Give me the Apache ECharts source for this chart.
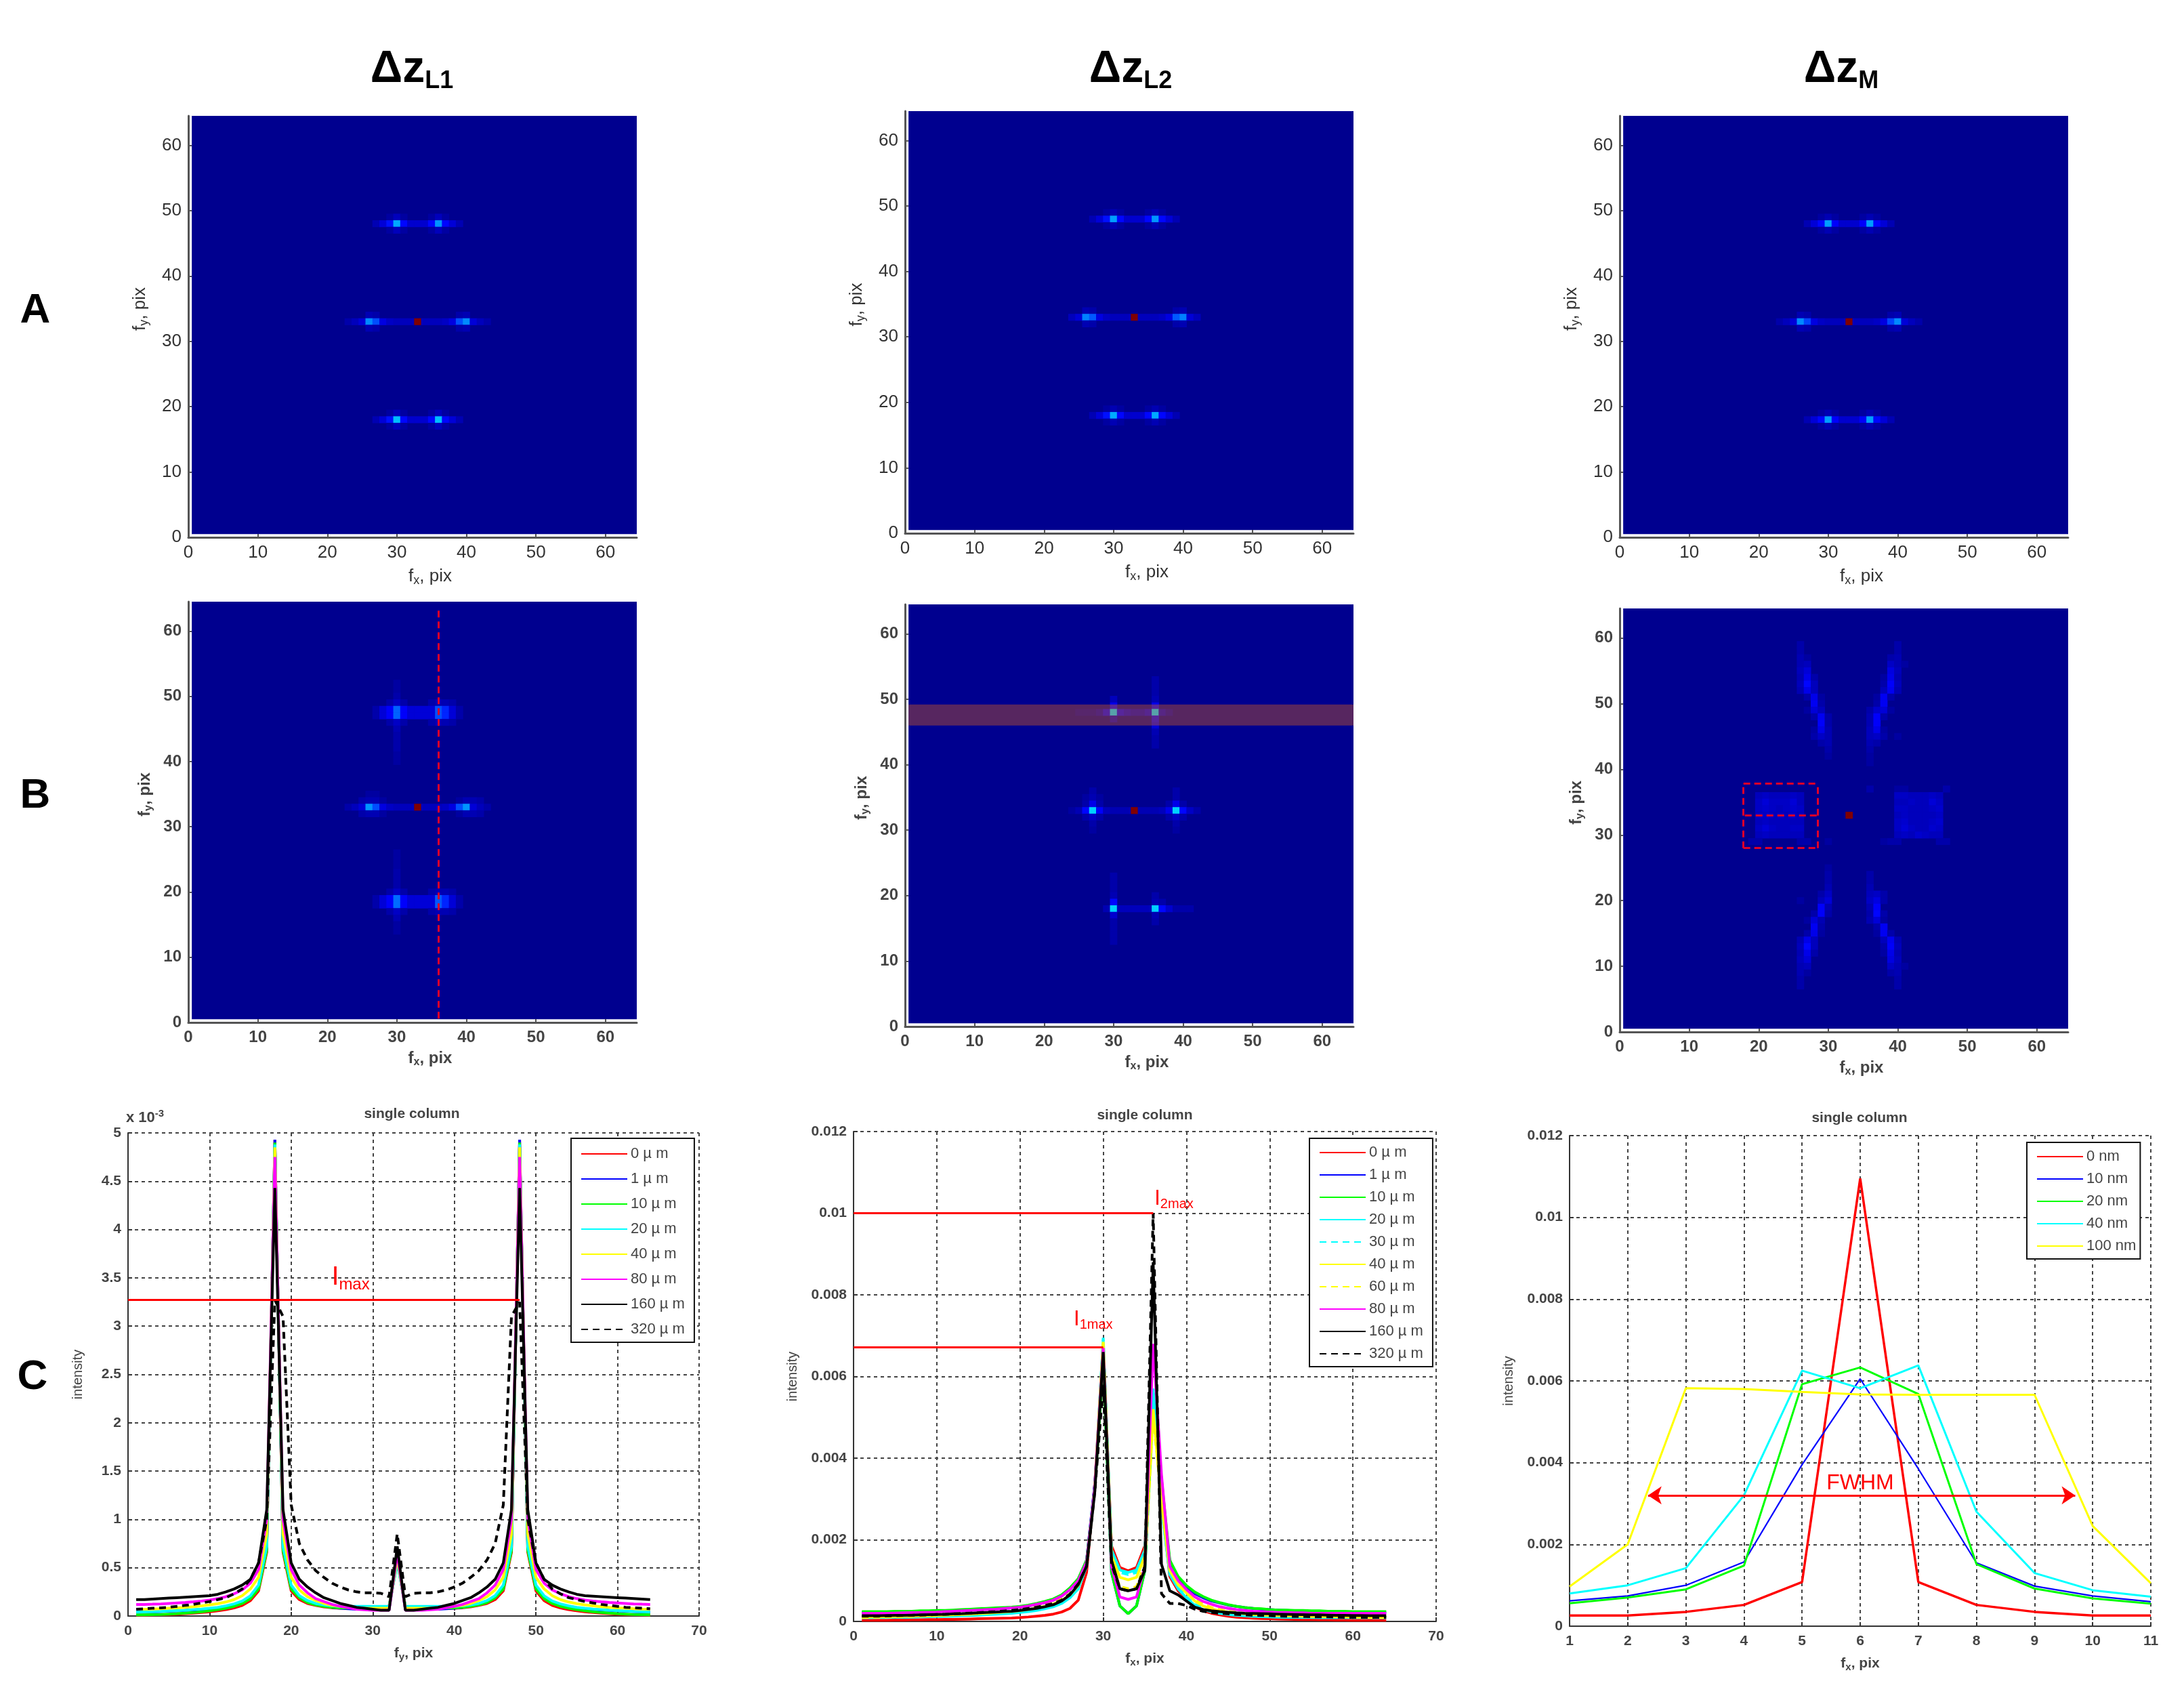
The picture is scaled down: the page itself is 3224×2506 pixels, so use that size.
<!DOCTYPE html>
<html>
<head>
<meta charset="utf-8">
<title>single column</title>
<script src="https://cdn.jsdelivr.net/npm/echarts@6/dist/echarts.min.js"></script>
<style>
html,body{margin:0;padding:0;background:#fff;}
#main{width:3224px;height:2506px;}
</style>
</head>
<body>
<div id="main"></div>
<script>
// ---- line profiles, row C ----
var xPix = [];
for (var n = 1; n <= 64; n++) xPix.push(n);
var xFwhm = [1,2,3,4,5,6,7,8,9,10,11];

var namesL1 = ['0 µ m','1 µ m','10 µ m','20 µ m','40 µ m','80 µ m','160 µ m','320 µ m'];
var colorsL1 = ['#ff0000','#0000ff','#00ff00','#00ffff','#ffff00','#ff00ff','#000000','#000000'];
// intensity x 10^-3
var l1_0 = [.01,.01,.012,.014,.016,.02,.024,.03,.036,.044,.054,.066,.084,.11,.16,.26,.66,4.93,.66,.26,.17,.13,.11,.095,.085,.08,.08,.08,.085,.09,.095,.1,.58,.1,.095,.09,.085,.08,.08,.08,.085,.095,.11,.13,.17,.26,.66,4.93,.66,.26,.16,.11,.084,.066,.054,.044,.036,.03,.024,.02,.016,.014,.012,.01];
var l1_1 = [.04,.04,.042,.045,.05,.052,.058,.062,.068,.076,.086,.1,.12,.15,.2,.3,.7,4.93,.7,.3,.2,.15,.12,.105,.09,.08,.075,.07,.07,.07,.07,.07,.6,.07,.07,.07,.07,.07,.075,.08,.09,.105,.12,.15,.2,.3,.7,4.93,.7,.3,.2,.15,.12,.1,.086,.076,.068,.062,.058,.052,.05,.045,.042,.04];
var l1_2 = [.012,.012,.014,.016,.02,.024,.03,.036,.044,.054,.066,.08,.1,.13,.18,.28,.68,4.9,.68,.28,.19,.14,.115,.1,.09,.085,.085,.085,.09,.09,.095,.1,.56,.1,.095,.09,.09,.085,.085,.085,.09,.1,.115,.14,.19,.28,.68,4.9,.68,.28,.18,.13,.1,.08,.066,.054,.044,.036,.03,.024,.02,.016,.014,.012];
var l1_3 = [.04,.042,.044,.048,.052,.056,.06,.066,.072,.08,.09,.105,.125,.155,.21,.32,.72,4.88,.72,.32,.21,.16,.13,.115,.105,.1,.1,.1,.1,.1,.1,.1,.55,.1,.1,.1,.1,.1,.1,.1,.105,.115,.13,.16,.21,.32,.72,4.88,.72,.32,.21,.155,.125,.105,.09,.08,.072,.066,.06,.056,.052,.048,.044,.042];
var l1_4 = [.07,.07,.072,.075,.08,.085,.09,.097,.105,.115,.128,.145,.17,.21,.28,.4,.85,4.85,.85,.4,.27,.2,.16,.13,.11,.1,.09,.085,.08,.08,.08,.08,.6,.08,.08,.08,.08,.085,.09,.1,.11,.13,.16,.2,.27,.4,.85,4.85,.85,.4,.28,.21,.17,.145,.128,.115,.105,.097,.09,.085,.08,.075,.072,.07];
var l1_5 = [.12,.12,.122,.125,.13,.135,.14,.147,.155,.165,.18,.2,.23,.27,.34,.48,1,4.75,1,.48,.32,.24,.18,.15,.12,.1,.085,.07,.065,.06,.06,.06,.65,.06,.06,.06,.065,.07,.085,.1,.12,.15,.18,.24,.32,.48,1,4.75,1,.48,.34,.27,.23,.2,.18,.165,.155,.147,.14,.135,.13,.125,.122,.12];
var l1_6 = [.17,.17,.175,.18,.185,.19,.195,.2,.205,.21,.225,.25,.28,.32,.38,.55,1.1,4.43,1.1,.55,.38,.3,.24,.19,.16,.13,.11,.09,.08,.07,.06,.06,.72,.06,.06,.07,.08,.09,.11,.13,.16,.19,.24,.3,.38,.55,1.1,4.43,1.1,.55,.38,.32,.28,.25,.225,.21,.205,.2,.195,.19,.185,.18,.175,.17];
var l1_7 = [.07,.075,.08,.085,.09,.1,.11,.12,.135,.15,.17,.19,.23,.28,.38,.55,1,3.27,3.1,1.15,.75,.58,.47,.4,.34,.3,.27,.25,.24,.24,.235,.2,.85,.2,.235,.24,.24,.25,.27,.3,.34,.4,.47,.58,.75,1.15,3.1,3.25,1,.55,.38,.28,.23,.19,.17,.15,.135,.12,.11,.1,.09,.085,.08,.075];

var namesL2 = ['0 µ m','1 µ m','10 µ m','20 µ m','30 µ m','40 µ m','60 µ m','80 µ m','160 µ m','320 µ m'];
var colorsL2 = ['#ff0000','#0000ff','#00ff00','#00ffff','#00ffff','#ffff00','#ffff00','#ff00ff','#000000','#000000'];
var dashedL2 = [false,false,false,false,true,false,true,false,false,true];
// intensity x 10^-4
var l2_0 = [.3,.3,.3,.3,.35,.35,.4,.4,.45,.45,.5,.5,.55,.6,.65,.7,.75,.8,.85,.95,1.1,1.3,1.5,1.8,2.3,3.2,5.2,12,34,68,18.5,13.2,12.4,13.2,18.5,56,30,11,7.5,5.6,3.6,2.6,2,1.6,1.3,1.05,.9,.8,.7,.65,.6,.55,.5,.45,.45,.4,.4,.35,.35,.3,.3,.3,.3,.3];
var l2_1 = [2.2,2.2,2.2,2.2,2.3,2.3,2.3,2.4,2.4,2.5,2.5,2.6,2.7,2.8,2.9,3,3.1,3.2,3.3,3.5,3.8,4.2,4.6,5.2,6.2,7.8,10,15,34,65,12,3.8,1.9,3.8,12.5,56,33,14.5,10.5,8.3,6.8,5.8,5,4.5,4,3.7,3.4,3.2,3,2.9,2.8,2.7,2.6,2.5,2.5,2.4,2.4,2.3,2.3,2.3,2.2,2.2,2.2,2.2];
var l2_2 = [2.4,2.4,2.4,2.4,2.5,2.5,2.5,2.6,2.6,2.7,2.7,2.8,2.9,3,3.1,3.2,3.3,3.4,3.5,3.7,4,4.4,4.9,5.5,6.5,8.2,10.5,15,33,63,12,3.8,1.9,3.8,12.5,53,35,15,11,8.8,7.2,6.1,5.2,4.6,4.1,3.7,3.4,3.2,3.1,2.9,2.8,2.8,2.7,2.7,2.6,2.6,2.5,2.5,2.5,2.4,2.4,2.4,2.4,2.4];
var l2_3 = [.9,.9,.95,.95,1,1,1.05,1.1,1.15,1.2,1.25,1.3,1.4,1.45,1.55,1.65,1.75,1.85,2,2.2,2.4,2.7,3.1,3.6,4.4,5.8,8,13.5,33,69,17.5,12.6,12,12.6,17.5,57,28,11.5,8,5.8,3.9,2.9,2.4,2,1.7,1.5,1.35,1.25,1.15,1.1,1.05,1,1,.95,.95,.9,.9,.9,.9,.9,.9,.9,.9,.9];
var l2_4 = [1.1,1.1,1.1,1.15,1.15,1.2,1.2,1.25,1.3,1.35,1.4,1.5,1.55,1.65,1.75,1.85,1.95,2.1,2.2,2.4,2.7,3,3.4,3.9,4.7,6,8.2,13.5,33,69.5,17,12,11.5,12,17,57,28,12,8.3,6,4.2,3.2,2.6,2.2,1.9,1.7,1.55,1.45,1.35,1.3,1.25,1.2,1.2,1.15,1.15,1.1,1.1,1.1,1.1,1.1,1.1,1.1,1.1,1.1];
var l2_5 = [1.1,1.1,1.15,1.15,1.2,1.25,1.3,1.35,1.4,1.45,1.55,1.6,1.7,1.8,1.9,2,2.15,2.3,2.45,2.65,2.95,3.3,3.7,4.3,5.1,6.5,8.8,13.8,33,68.5,16,10.8,10.2,10.8,16,52,29,12.5,9,7,5,3.8,3.1,2.6,2.3,2.05,1.85,1.7,1.6,1.5,1.45,1.4,1.35,1.3,1.25,1.2,1.2,1.15,1.15,1.1,1.1,1.1,1.1,1.1];
var l2_6 = [1,1,1.05,1.1,1.15,1.2,1.25,1.3,1.4,1.5,1.6,1.7,1.8,1.9,2.05,2.2,2.35,2.5,2.7,2.9,3.2,3.6,4,4.6,5.4,6.8,9,14,33,68,14,8.5,8,8.5,14,50,30,13,9.3,7.2,5.4,4.2,3.4,2.9,2.5,2.25,2,1.85,1.7,1.6,1.5,1.45,1.4,1.3,1.25,1.2,1.2,1.15,1.1,1.1,1.05,1,1,1];
var l2_7 = [2,2,2,2,2.05,2.1,2.15,2.2,2.25,2.3,2.4,2.5,2.6,2.7,2.8,2.9,3,3.15,3.3,3.5,3.8,4.2,4.6,5.2,6.2,7.8,10,14.5,33,67,13.5,6,5.4,6,13.5,68,36,13.5,10,7.8,6,4.9,4.2,3.6,3.2,2.9,2.7,2.5,2.4,2.3,2.2,2.2,2.1,2.1,2,2,2,2,2,2,2,2,2,2];
var l2_8 = [1.4,1.4,1.4,1.45,1.5,1.5,1.55,1.6,1.65,1.7,1.75,1.85,1.9,2,2.1,2.2,2.3,2.4,2.5,2.7,2.95,3.2,3.6,4.1,5,6.5,9,13.5,32,66,15,8,7.5,8,12.5,88,14,7.5,6.5,5,3.5,2.9,2.6,2.4,2.25,2.1,2,1.95,1.9,1.85,1.8,1.75,1.7,1.65,1.6,1.6,1.55,1.5,1.5,1.45,1.45,1.4,1.4,1.4];
var l2_9 = [1.3,1.3,1.3,1.35,1.4,1.45,1.5,1.55,1.6,1.7,1.75,1.85,1.95,2.05,2.15,2.3,2.4,2.55,2.7,2.9,3.2,3.5,3.9,4.4,5.2,6.7,9.2,13.5,32,58,14,8,7.5,8,13.5,100,6.8,4.4,4.4,3.9,3,2.5,2.2,2,1.85,1.7,1.6,1.5,1.45,1.4,1.3,1.25,1.2,1.2,1.15,1.1,1.1,1.05,1,1,1,1,1,1];

var namesM = ['0 nm','10 nm','20 nm','40 nm','100 nm'];
var colorsM = ['#ff0000','#0000ff','#00ff00','#00ffff','#ffff00'];
var m_0 = [.00026,.00026,.00035,.00052,.00108,.01095,.00108,.00052,.00035,.00026,.00026];
var m_1 = [.00062,.00074,.001,.00157,.00395,.00605,.00385,.00155,.00098,.00074,.0006];
var m_2 = [.00056,.0007,.0009,.00148,.00592,.00633,.00568,.00152,.00092,.00068,.00055];
var m_3 = [.0008,.001,.00142,.0032,.00625,.00582,.00638,.0028,.0013,.00088,.00072];
var m_4 = [.00097,.002,.00582,.0058,.00573,.00567,.00566,.00566,.00566,.00245,.00105];

// ---- spectra, rows A and B: [fy, first fx, [intensity %]], everything else is background ----
var heatA1 = [[49,29,[2,5,2]],[49,35,[2,5,2]],[48,27,[4,8,14,29,13,7,7,7,13,27,13,8,4]],[47,29,[2,5,2]],[47,35,[2,5,2]],
  [34,26,[4,3]],[34,39,[3,4]],[33,23,[3,5,8,26,20,9,6,5,5,5,100,5,5,5,6,9,20,26,8,5,3]],[32,26,[4,3]],[32,39,[3,4]],
  [19,29,[2,5,2]],[19,35,[2,5,2]],[18,27,[4,8,14,31,13,7,7,7,13,31,13,8,4]],[17,29,[2,5,2]],[17,35,[2,5,2]]];
var heatA2 = [[49,29,[2,4,2]],[49,35,[2,4,2]],[48,27,[4,8,14,28,13,7,7,7,13,27,13,8,4]],[47,29,[2,4,2]],[47,35,[2,4,2]],
  [34,26,[4,3]],[34,39,[3,4]],[33,24,[5,8,25,21,9,6,5,5,5,100,5,5,5,6,9,21,25,8,5]],[32,26,[4,3]],[32,39,[3,4]],
  [19,29,[2,4,2]],[19,35,[2,4,2]],[18,27,[4,8,14,29,13,7,7,7,13,29,13,8,4]],[17,29,[2,4,2]],[17,35,[2,4,2]]];
var heatA3 = [[49,29,[2,4,2]],[49,35,[2,4,2]],[48,27,[4,8,13,28,12,7,7,7,12,28,13,8,4]],[47,29,[2,4,2]],[47,35,[2,4,2]],
  [34,26,[4,3]],[34,39,[3,4]],[33,23,[3,5,8,26,19,9,6,5,5,5,100,5,5,5,6,9,19,26,8,5,3]],[32,26,[4,3]],[32,39,[3,4]],
  [19,29,[2,4,2]],[19,35,[2,4,2]],[18,27,[4,8,13,28,12,7,7,7,12,28,13,8,4]],[17,29,[2,4,2]],[17,35,[2,4,2]]];
var heatB1 = [[52,30,[2]],[51,30,[2]],[50,30,[3]],[49,29,[3,6,3]],[49,35,[3,4,4,3]],[48,27,[3,8,12,22,12,8,8,8,8,20,16,8,3]],[47,27,[3,8,12,22,12,8,8,8,8,20,16,8,3]],
  [46,29,[3,6,3]],[46,35,[3,4,4,3]],[45,30,[4]],[44,30,[3]],[43,30,[3]],[42,30,[3]],[41,30,[2]],[40,30,[2]],
  [35,26,[2,2]],[34,25,[3,4,4,2]],[34,39,[2,4,4,3]],[33,23,[3,5,8,27,20,9,6,5,5,5,100,5,5,5,6,9,20,27,8,5,3]],[32,25,[3,4,4,2]],[32,39,[2,4,4,3]],
  [26,30,[2]],[25,30,[2]],[24,30,[2]],[23,30,[3]],[22,30,[3]],[21,30,[3]],[20,29,[3,6,3]],[20,35,[3,4,4,3]],
  [19,27,[3,8,12,23,12,8,8,8,8,21,16,8,3]],[18,27,[3,8,12,23,12,8,8,8,8,21,16,8,3]],[17,29,[3,6,3]],[17,35,[3,4,4,3]],[16,30,[4]],[15,30,[2]],[14,30,[2]]];
var heatB2 = [[53,36,[3]],[52,36,[3]],[51,36,[3]],[50,30,[5]],[50,36,[4]],[49,30,[10]],[49,36,[10]],[48,25,[2,2,2,4,10,31,10,7,5,5,8,31,6,3]],[47,30,[5]],[47,36,[10]],[46,36,[8]],[45,36,[4]],[44,36,[3]],[43,36,[3]],
  [36,27,[3]],[36,39,[3]],[35,26,[2,4,2]],[35,39,[3]],[34,26,[3,10,3]],[34,38,[3,10,3]],[33,24,[2,4,13,33,12,5,4,4,4,100,4,4,4,5,10,33,13,6,3]],[32,26,[3,6,3]],[32,38,[3,6,3]],[31,27,[3]],[31,39,[3]],[30,27,[2]],[30,39,[2]],
  [23,30,[3]],[22,30,[3]],[21,30,[3]],[20,30,[4]],[20,36,[3]],[19,30,[13]],[19,36,[4,3]],[18,29,[4,33,5,5,5,5,5,33,13,7,3,3,3]],[17,30,[7]],[17,36,[4]],[16,30,[3]],[16,36,[3]],[15,30,[3]],[14,30,[3]],[13,30,[3]]];
var heatB3 = [[59,26,[3]],[59,40,[3]],[58,26,[3]],[58,40,[3]],[57,26,[4,2]],[57,39,[3,4]],[56,26,[4,5]],[56,39,[6,4,2]],[55,26,[5,8]],[55,39,[9,5]],[54,26,[4,10,3]],[54,38,[2,10,4]],[53,26,[5,13,5]],[53,38,[3,12,5]],[52,26,[4,10,5]],[52,38,[5,11,4]],
  [51,27,[3,10,2]],[51,37,[2,11,3]],[50,28,[11,3]],[50,37,[3,11]],[49,27,[2,8,5]],[49,36,[3,7,8,2]],[48,28,[3,11,3]],[48,36,[4,12,3]],[47,29,[12,3]],[47,36,[4,12]],[46,28,[2,10,4]],[46,36,[5,10,2]],[45,28,[3,6,4]],[45,36,[5,6,3]],[45,40,[2]],[44,29,[3,4]],[44,36,[4,3]],[43,30,[3]],[43,36,[3]],[42,30,[2]],[42,36,[2]],[41,36,[2]],
  [37,36,[3]],[37,40,[2,2]],[37,47,[3]],[36,20,[5,6,5,5,5,6,5]],[36,40,[6,6,5,5,5,6,5]],[35,20,[6,8,6,6,6,8,5]],[35,40,[5,5,6,5,5,8,6]],[34,20,[6,7,6,5,6,7,6]],[34,40,[6,6,5,5,5,6,7]],[33,20,[5,6,5,5,5,6,5]],[33,33,[100]],[33,40,[5,6,5,5,5,5,6]],
  [32,20,[5,6,5,5,5,5,5]],[32,40,[6,7,5,5,5,6,7]],[31,20,[6,8,6,5,5,6,6]],[31,40,[6,8,6,5,5,7,6]],[30,20,[5,6,5,5,5,5,5]],[30,40,[5,6,5,7,6,5,5]],[29,19,[3,3]],[29,26,[3,3]],[29,30,[2]],[29,38,[2,3,3]],[29,46,[3,3]],
  [25,30,[2]],[24,30,[3]],[24,36,[3]],[23,30,[3]],[23,36,[3]],[22,30,[4]],[22,36,[4]],[21,29,[3,6]],[21,36,[5,6,3]],[20,26,[2]],[20,29,[5,8]],[20,36,[6,9,3]],[19,29,[12,4]],[19,36,[4,12]],[18,28,[3,12,3]],[18,36,[3,13,3]],[17,27,[2,8,4]],[17,36,[4,8,2]],
  [16,28,[11,3]],[16,37,[3,11]],[15,27,[3,10,2]],[15,37,[2,11,3]],[14,26,[4,10,5]],[14,38,[5,11,4]],[13,26,[5,13,5]],[13,38,[3,12,5]],[12,26,[4,10,3]],[12,38,[2,10,4]],[11,26,[5,8]],[11,39,[9,5]],[10,26,[4,5]],[10,39,[6,4,2]],[9,26,[4,2]],[9,39,[3,4]],[8,26,[3]],[8,40,[3]],[7,26,[3]],[7,40,[3]]];
var heatCats = xPix;
var heatTicks = [0,10,20,30,40,50,60];

// ---- overlays drawn on the spectra and profiles ----
var colLineB1 = [[36,.6],[36,63.6]];
var rowBandB2 = [.5,46,64.5,49.2];
var boxB3 = [[[17.8,28],[28.5,28]],[[17.8,37.8],[28.5,37.8]],[[17.8,28],[17.8,37.8]],[[28.5,28],[28.5,37.8]],[[18,33],[28.5,33]]];
var imaxL1 = [[0,3.27],[48,3.27]];
var imax1L2 = [[0,.00672],[30,.00672]];
var imax2L2 = [[0,.01],[36,.01]];
var fwhmM = [[2.35,.0032],[9.7,.0032]];

// ---- layout in pixels ----
var heatPanels = [
  {l:278,r:940,t:171,b:793,cells:heatA1,bold:false,xname:'f{s|x}, pix',yname:'f{s|y}, pix'},
  {l:1336,r:1998,t:164,b:787,cells:heatA2,bold:false,xname:'f{s|x}, pix',yname:'f{s|y}, pix'},
  {l:2391,r:3053,t:171,b:793,cells:heatA3,bold:false,xname:'f{s|x}, pix',yname:'f{s|y}, pix'},
  {l:278,r:940,t:888,b:1509,cells:heatB1,bold:true,xname:'f{s|x}, pix',yname:'f{s|y}, pix',over:'col'},
  {l:1336,r:1998,t:892,b:1515,cells:heatB2,bold:true,xname:'f{s|x}, pix',yname:'f{s|y}, pix',over:'band'},
  {l:2391,r:3053,t:898,b:1523,cells:heatB3,bold:true,xname:'f{s|x}, pix',yname:'f{s|y}, pix',over:'box'}
];
var FONT = '"Liberation Sans", Arial, sans-serif';
var GREY = '#444';

var grids = [], xAxes = [], yAxes = [], series = [], legends = [], titles = [], heatIdx = [];

function subRich(size, color, bold) {
  return {s:{fontSize:size, fontFamily:FONT, color:color, fontWeight:bold ? 'bold' : 'normal', padding:[Math.round(size*.7),0,0,0]}};
}

function pushGrid(p, bg) {
  var g = {left:p.l, top:p.t, width:p.r-p.l, height:p.b-p.t, show:!!bg, borderWidth:0};
  if (bg) g.backgroundColor = bg;
  grids.push(g);
  return grids.length-1;
}

function redLine(a, color, type, width) {
  return [{coord:a[0], lineStyle:{color:color, type:type, width:width}}, {coord:a[1]}];
}

// spectra: one hidden category grid for the cells, one value grid for the axes
heatPanels.forEach(function (p) {
  var ux = (p.r-p.l)/64.5, uy = (p.b-p.t)/64.5;
  var gi = pushGrid({l:p.l+ux*.5, r:p.r, t:p.t, b:p.b-uy*.5}, '#00008f');
  xAxes.push({gridIndex:gi, type:'category', data:heatCats, show:false});
  yAxes.push({gridIndex:gi, type:'category', data:heatCats, show:false});
  var cells = [];
  p.cells.forEach(function (row) {
    row[2].forEach(function (v, k) {
      cells.push([row[1]+k-1, row[0]-1, v/100]);
    });
  });
  heatIdx.push(series.length);
  series.push({type:'heatmap', xAxisIndex:xAxes.length-1, yAxisIndex:yAxes.length-1, data:cells, progressive:0, silent:true, animation:false});

  var ai = pushGrid(p);
  var fs = p.bold ? 24 : 26;
  var col = p.bold ? GREY : '#333';
  var w = p.bold ? 'bold' : 'normal';
  xAxes.push({gridIndex:ai, type:'value', min:0, max:64.5,
    name:p.xname, nameLocation:'middle', nameGap:p.bold ? 40 : 42,
    nameTextStyle:{fontSize:fs, color:col, fontWeight:w, padding:[0,0,0,52], rich:subRich(fs-8,col,p.bold)},
    axisLine:{show:true, onZero:false, lineStyle:{color:'#555', width:3}},
    axisTick:{show:true, inside:true, length:5, customValues:heatTicks, lineStyle:{color:'#555', width:2}},
    axisLabel:{fontSize:fs, color:col, fontWeight:w, margin:10, customValues:heatTicks},
    splitLine:{show:false}});
  yAxes.push({gridIndex:ai, type:'value', min:0, max:64.5,
    name:p.yname, nameLocation:'middle', nameGap:p.bold ? 50 : 56, nameRotate:90,
    nameTextStyle:{fontSize:fs, color:col, fontWeight:w, padding:[0,0,0,52], rich:subRich(fs-8,col,p.bold)},
    axisLine:{show:true, onZero:false, lineStyle:{color:'#555', width:3}},
    axisTick:{show:true, inside:true, length:5, customValues:heatTicks, lineStyle:{color:'#555', width:2}},
    axisLabel:{fontSize:fs, color:col, fontWeight:w, margin:10, customValues:heatTicks},
    splitLine:{show:false}});

  if (p.over) {
    var s = {type:'line', name:'over', xAxisIndex:xAxes.length-1, yAxisIndex:yAxes.length-1, data:[], symbol:'none', silent:true, animation:false, z:5};
    if (p.over == 'col') {
      s.markLine = {silent:true, symbol:'none', label:{show:false}, animation:false, data:[redLine(colLineB1,'#e0002a',[10,6],3)]};
    }
    if (p.over == 'band') {
      s.markArea = {silent:true, z:10, animation:false, itemStyle:{color:'rgba(255,110,5,0.34)'},
        data:[[{coord:[rowBandB2[0],rowBandB2[1]]},{coord:[rowBandB2[2],rowBandB2[3]]}]]};
    }
    if (p.over == 'box') {
      s.markLine = {silent:true, symbol:'none', label:{show:false}, animation:false, data:boxB3.map(function (b) { return redLine(b,'#e0002a',[10,6],3); })};
    }
    series.push(s);
  }
});

// profiles
function profile(o) {
  var gi = pushGrid(o);
  xAxes.push({gridIndex:gi, type:'value', min:o.xmin, max:o.xmax, interval:o.xstep,
    name:o.xname, nameLocation:'middle', nameGap:42,
    nameTextStyle:{fontSize:21, color:GREY, fontWeight:'bold', rich:subRich(15,GREY,true)},
    axisLine:{show:true, onZero:false, lineStyle:{color:'#333', width:2}},
    axisTick:{show:true, inside:true, length:6, lineStyle:{color:'#333', width:2}},
    axisLabel:{fontSize:21, color:GREY, fontWeight:'bold', margin:12},
    splitLine:{show:true, lineStyle:{color:'#444', type:[5,5], width:2}}});
  yAxes.push({gridIndex:gi, type:'value', min:0, max:o.ymax, interval:o.ystep,
    name:'intensity', nameLocation:'middle', nameGap:o.ygap, nameRotate:90,
    nameTextStyle:{fontSize:20, color:GREY},
    axisLine:{show:true, onZero:false, lineStyle:{color:'#333', width:2}},
    axisTick:{show:true, inside:true, length:6, lineStyle:{color:'#333', width:2}},
    axisLabel:{fontSize:21, color:GREY, fontWeight:'bold', margin:10},
    splitLine:{show:true, lineStyle:{color:'#444', type:[5,5], width:2}}});
  var xi = xAxes.length-1, yi = yAxes.length-1;
  o.values.forEach(function (vals, k) {
    series.push({type:'line', name:o.names[k], xAxisIndex:xi, yAxisIndex:yi, symbol:'none', animation:false, silent:true,
      itemStyle:{color:o.colors[k]},
      lineStyle:{color:o.colors[k], width:o.widths ? o.widths[k] : o.width, type:o.dashed[k] ? [10,7] : 'solid'},
      data:vals.map(function (v, j) { return [o.xs[j], v*o.scale]; })});
  });
  series.push({type:'line', name:'over', xAxisIndex:xi, yAxisIndex:yi, data:[], symbol:'none', silent:true, animation:false, z:5,
    markLine:{silent:true, animation:false, symbol:o.arrow ? ['arrow','arrow'] : 'none', symbolSize:20, label:{show:false},
      data:o.lines.map(function (a) { return redLine(a,'#ff0000','solid',3); })},
    markPoint:{silent:true, animation:false, symbol:'circle', symbolSize:1, itemStyle:{color:'rgba(255,0,0,0)'},
      data:o.marks.map(function (m) {
        return {coord:m.at, label:{show:true, position:'inside', formatter:m.text, color:'#ff0000', fontSize:m.size, fontFamily:FONT,
          rich:{s:{fontSize:m.sub, color:'#ff0000', fontFamily:FONT, padding:[Math.round(m.sub*.85),0,0,0]}}}};
      })}});
  // transparent item colour: the legend then shows only the line sample
  legends.push({left:o.leg[0], top:o.leg[1], orient:'vertical', data:o.names, selectedMode:false,
    backgroundColor:'#fff', borderColor:'#111', borderWidth:2, padding:o.legPad,
    itemWidth:68, itemHeight:14, itemGap:o.legGap, itemStyle:{color:'rgba(0,0,0,0)', borderWidth:0},
    textStyle:{fontSize:22, color:GREY, fontFamily:FONT}});
}

profile({l:189,r:1032,t:1672,b:2385, xmin:0,xmax:70,xstep:10, ymax:5,ystep:.5, ygap:64, xname:'f{s|y}, pix',
  xs:xPix, scale:1, width:4, names:namesL1, colors:colorsL1,
  dashed:[false,false,false,false,false,false,false,true],
  values:[l1_0,l1_1,l1_2,l1_3,l1_4,l1_5,l1_6,l1_7],
  lines:[imaxL1], marks:[{at:[27.3,3.5], text:'I{s|max}', size:38, sub:24}],
  leg:[843,1680], legPad:[12,14,8,14], legGap:15});
profile({l:1260,r:2120,t:1670,b:2393, xmin:0,xmax:70,xstep:10, ymax:.012,ystep:.002, ygap:80, xname:'f{s|x}, pix',
  xs:xPix, scale:1e-4, width:4, names:namesL2, colors:colorsL2, dashed:dashedL2,
  values:[l2_0,l2_1,l2_2,l2_3,l2_4,l2_5,l2_6,l2_7,l2_8,l2_9],
  lines:[imax1L2,imax2L2], marks:[{at:[28.8,.0074], text:'I{s|1max}', size:31, sub:20},{at:[38.5,.01035], text:'I{s|2max}', size:31, sub:20}],
  leg:[1933,1680], legPad:[10,14,8,14], legGap:11});
profile({l:2317,r:3175,t:1676,b:2400, xmin:1,xmax:11,xstep:1, ymax:.012,ystep:.002, ygap:80, xname:'f{s|x}, pix',
  xs:xFwhm, scale:1, widths:[3.5,2.2,3,3,3], names:namesM, colors:colorsM,
  dashed:[false,false,false,false,false],
  values:[m_0,m_1,m_2,m_3,m_4],
  lines:[fwhmM], arrow:true, marks:[{at:[6,.0035], text:'FWHM', size:32, sub:20}],
  leg:[2992,1686], legPad:[10,6,8,14], legGap:11});

// headings
function heading(text, x, y, size, rich, color, weight) {
  titles.push({text:text, left:x, top:y, textAlign:'center', padding:0,
    textStyle:{fontFamily:FONT, fontSize:size, fontWeight:weight || 'bold', color:color || '#000', rich:rich}});
}
var headRich = {s:{fontFamily:FONT, fontSize:36, fontWeight:'bold', color:'#000', padding:[34,0,0,0]}};
heading('Δz{s|L1}', 608, 68, 66, headRich);
heading('Δz{s|L2}', 1669, 68, 66, headRich);
heading('Δz{s|M}', 2718, 68, 66, headRich);
heading('A', 52, 428, 62);
heading('B', 52, 1144, 62);
heading('C', 48, 2002, 62);
heading('single column', 608, 1634, 21, null, GREY);
heading('single column', 1690, 1636, 21, null, GREY);
heading('single column', 2745, 1640, 21, null, GREY);
titles.push({text:'x 10{s|-3}', left:186, top:1636, padding:0,
  textStyle:{fontFamily:FONT, fontSize:22, fontWeight:'bold', color:GREY,
    rich:{s:{fontFamily:FONT, fontSize:15, fontWeight:'bold', color:GREY, padding:[0,0,12,0]}}}});

var chart = echarts.init(document.getElementById('main'));
chart.setOption({
  backgroundColor:'#fff',
  animation:false,
  textStyle:{fontFamily:FONT},
  title:titles,
  grid:grids,
  xAxis:xAxes,
  yAxis:yAxes,
  legend:legends,
  visualMap:{show:false, type:'continuous', min:0, max:1, dimension:2, seriesIndex:heatIdx,
    inRange:{color:['#00008f','#0000ff','#0080ff','#00ffff','#80ff80','#ffff00','#ff8000','#ff0000','#800000']}},
  series:series
});
</script>
</body>
</html>
